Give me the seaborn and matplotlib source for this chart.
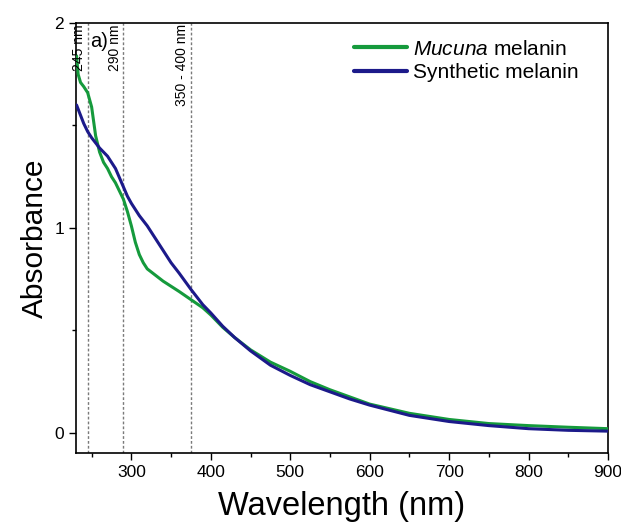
import numpy as np
import pandas as pd
import matplotlib
matplotlib.use("Agg")
import matplotlib.pyplot as plt
from matplotlib.ticker import MultipleLocator
import seaborn as sns

# ---- data ----
wavelength = [231, 233, 236, 240, 245, 250, 255, 260, 265, 270, 275, 280, 285, 290,
              295, 300, 305, 310, 315, 320, 330, 340, 350, 360, 375, 390, 400, 415,
              430, 450, 475, 500, 525, 550, 575, 600, 650, 700, 750, 800, 850, 900]
mucuna = [1.84, 1.75, 1.71, 1.69, 1.66, 1.59, 1.45, 1.37, 1.32, 1.29, 1.25, 1.22, 1.18, 1.14,
          1.08, 1.01, 0.93, 0.87, 0.83, 0.80, 0.77, 0.74, 0.715, 0.69, 0.65, 0.61, 0.575, 0.515,
          0.465, 0.405, 0.345, 0.30, 0.25, 0.21, 0.175, 0.14, 0.095, 0.065, 0.045, 0.035, 0.027, 0.02]
synthetic = [1.60, 1.58, 1.55, 1.51, 1.47, 1.44, 1.415, 1.39, 1.37, 1.35, 1.32, 1.29, 1.245, 1.20,
             1.155, 1.12, 1.09, 1.06, 1.035, 1.01, 0.95, 0.89, 0.83, 0.78, 0.70, 0.625, 0.585, 0.52,
             0.465, 0.40, 0.33, 0.28, 0.235, 0.20, 0.165, 0.135, 0.085, 0.055, 0.035, 0.02, 0.012, 0.008]
series_names = [r"$\mathit{Mucuna}$ melanin", "Synthetic melanin"]
marker_lines = [245, 290, 375]
marker_labels = ["245 nm", "290 nm", "350 - 400 nm"]
x_ticks = [300, 400, 500, 600, 700, 800, 900]
y_ticks = [0, 1, 2]

df = pd.DataFrame({
    "Wavelength": wavelength * 2,
    "Absorbance": mucuna + synthetic,
    "Sample": [series_names[0]] * len(wavelength) + [series_names[1]] * len(wavelength),
})

sns.set_theme(style="ticks")
plt.rcParams["font.family"] = ["Liberation Sans", "DejaVu Sans"]
plt.rcParams["mathtext.fontset"] = "custom"
plt.rcParams["mathtext.rm"] = "Liberation Sans"
plt.rcParams["mathtext.it"] = "Liberation Sans:italic"
plt.rcParams["text.color"] = "black"
plt.rcParams["axes.labelcolor"] = "black"
plt.rcParams["xtick.color"] = "black"
plt.rcParams["ytick.color"] = "black"

fig = plt.figure(figsize=(6.21, 5.24), dpi=100)
ax = fig.add_axes([0.122, 0.135, 0.857, 0.821])

for xv in marker_lines:
    ax.axvline(xv, color="#7a7a7a", lw=1.0, ls=(0, (2, 1.5)), zorder=1)

sns.lineplot(data=df, x="Wavelength", y="Absorbance", hue="Sample",
             palette=["#159a3c", "#1c1a8a"], lw=2.2, ax=ax, zorder=3)

ax.set_xlim(230, 900)
ax.set_ylim(-0.1, 2)
ax.set_xticks(x_ticks)
ax.set_yticks(y_ticks)
ax.xaxis.set_minor_locator(MultipleLocator(50))
ax.yaxis.set_minor_locator(MultipleLocator(0.5))
ax.tick_params(which="major", direction="out", length=5, width=1, labelsize=12.5, colors="black")
ax.tick_params(which="minor", direction="out", length=3, width=1)
for s in ax.spines.values():
    s.set_linewidth(1.2)
    s.set_color("black")
ax.set_xlabel("Wavelength (nm)", fontsize=23.5, labelpad=8)
ax.set_ylabel("Absorbance", fontsize=21.5, labelpad=4)

for xv, lab in zip(marker_lines, marker_labels):
    ax.text(xv - 2, 1.995, lab, rotation=90, ha="right", va="top", fontsize=10)
ax.text(245 + 3, 1.955, "a)", ha="left", va="top", fontsize=14.5)

leg = ax.legend(loc="upper right", bbox_to_anchor=(0.973, 0.995), frameon=False,
                fontsize=15, handlelength=2.55, handletextpad=0.3, labelspacing=0.2,
                borderaxespad=0.3)
for line in leg.get_lines():
    line.set_linewidth(3)

fig.savefig("out.png", dpi=100)
